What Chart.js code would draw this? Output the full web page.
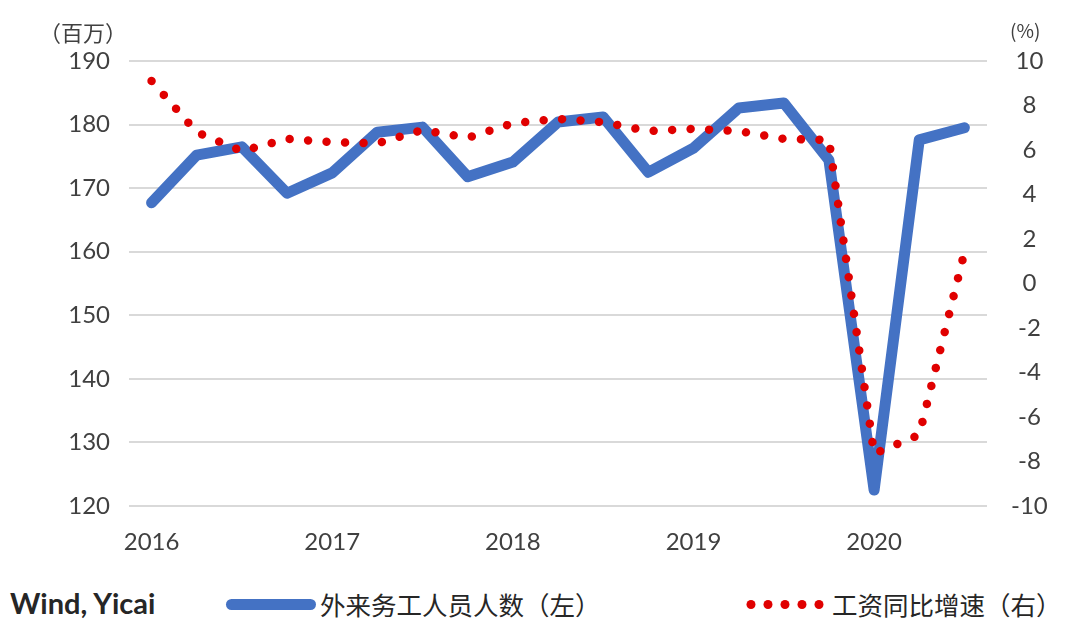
<!DOCTYPE html>
<html>
<head>
<meta charset="utf-8">
<script src="https://cdn.jsdelivr.net/npm/chart.js@4"></script>
<style>
    body { margin: 0; width: 1071px; height: 621px; background: #fff; position: relative; overflow: hidden; }
    #wrap { position: absolute; left: 0; top: 0; width: 1071px; height: 570px; }
    .unit { position: absolute; font: 22px "Noto Sans CJK SC", sans-serif; color: #404040; line-height: 1; }
    .legend { position: absolute; font: 25.5px "Noto Sans CJK SC", sans-serif; color: #262626; line-height: 1; }
    .legend svg { display: block; }
</style>
</head>
<body>
<div id="wrap"><canvas id="chart"></canvas></div>
<div class="unit" style="left:39px; top:20px;">（百万）</div>
<div class="unit" style="left:1010px; top:20px; font-size:19px;">(%)</div>
<div class="legend" style="left:10px; top:588px; font: bold 29px Lato, sans-serif; line-height:1;">Wind, Yicai</div>
<div class="legend" style="left:226px; top:599px; width:90px; height:11px; background:#4472C4; border-radius:6px;"></div>
<div class="legend" style="left:320px; top:591px;">外来务工人员人数（左）</div>
<div class="legend" style="left:746px; top:599px;">
    <svg width="80" height="11"><g fill="#E00000">
        <circle cx="5" cy="5.5" r="4.5"/><circle cx="22" cy="5.5" r="4.5"/><circle cx="39" cy="5.5" r="4.5"/>
        <circle cx="56" cy="5.5" r="4.5"/><circle cx="73" cy="5.5" r="4.5"/></g></svg>
</div>
<div class="legend" style="left:832px; top:591px;">工资同比增速（右）</div>

<script>
// ---------- DATA ----------
const quarters = [
    "2016Q1", "2016Q2", "2016Q3", "2016Q4",
    "2017Q1", "2017Q2", "2017Q3", "2017Q4",
    "2018Q1", "2018Q2", "2018Q3", "2018Q4",
    "2019Q1", "2019Q2", "2019Q3", "2019Q4",
    "2020Q1", "2020Q2", "2020Q3"
];
// 外来务工人员人数 (百万, left axis)
const migrantWorkers = [
    167.7, 175.2, 176.5, 169.2,
    172.4, 178.8, 179.6, 171.8,
    174.1, 180.4, 181.2, 172.5,
    176.3, 182.6, 183.4, 174.4,
    122.5, 177.6, 179.5
];
// 工资同比增速 (%, right axis)
const wageGrowth = [
    9.1, 6.8, 5.95, 6.5,
    6.35, 6.3, 6.9, 6.55,
    7.2, 7.4, 7.25, 6.85,
    6.95, 6.85, 6.5, 6.45,
    -7.65, -6.8, 1.4
];
const leftTicks = { min: 120, max: 190, step: 10 };
const rightTicks = { min: -10, max: 10, step: 2 };

const tickFont = { family: "Lato, 'Open Sans', sans-serif", size: 24 };
const tickColor = "#404040";

new Chart(document.getElementById("chart"), {
    type: "line",
    data: {
        labels: quarters,
        datasets: [
            {
                label: "工资同比增速（右）",
                data: wageGrowth,
                yAxisID: "yR",
                borderColor: "#E00000",
                borderWidth: 8.5,
                borderDash: [0.01, 18.5],
                borderCapStyle: "round",
                pointRadius: 0,
                tension: 0,
                order: 0
            },
            {
                label: "外来务工人员人数（左）",
                data: migrantWorkers,
                yAxisID: "yL",
                borderColor: "#4472C4",
                borderWidth: 11,
                borderJoinStyle: "round",
                borderCapStyle: "round",
                pointRadius: 0,
                tension: 0,
                order: 1
            }
        ]
    },
    options: {
        responsive: true,
        maintainAspectRatio: false,
        animation: false,
        layout: { padding: { top: 61, left: 0, right: 0, bottom: 0 } },
        plugins: { legend: { display: false }, tooltip: { enabled: false } },
        scales: {
            x: {
                offset: true,
                grid: { display: false },
                border: { display: false },
                afterFit: s => { s.height = 64; },
                ticks: {
                    autoSkip: false,
                    maxRotation: 0,
                    padding: 14,
                    font: tickFont,
                    color: tickColor,
                    callback: function (v, i) {
                        const q = quarters[i];
                        return q.endsWith("Q1") ? q.slice(0, 4) : "";
                    }
                }
            },
            yL: {
                position: "left",
                min: leftTicks.min,
                max: leftTicks.max,
                afterFit: s => { s.width = 129; },
                grid: { color: "#D9D9D9", lineWidth: 2, drawTicks: false },
                border: { display: false },
                ticks: { stepSize: leftTicks.step, padding: 19, font: tickFont, color: tickColor }
            },
            yR: {
                position: "right",
                min: rightTicks.min,
                max: rightTicks.max,
                afterFit: s => { s.width = 84; },
                grid: { display: false, drawTicks: false },
                border: { display: false },
                ticks: { stepSize: rightTicks.step, padding: 24, crossAlign: "center", font: tickFont, color: tickColor }
            }
        }
    }
});
</script>
</body>
</html>
